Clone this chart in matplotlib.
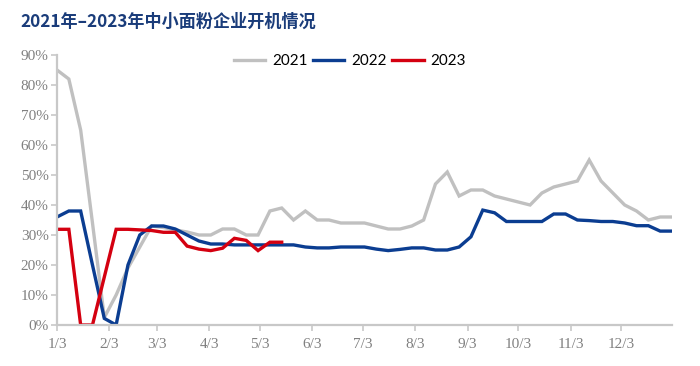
import matplotlib
matplotlib.use("Agg")
import matplotlib.pyplot as plt
import numpy as np

title = "2021年–2023年中小面粉企业开机情况"
series_names = ["2021", "2022", "2023"]
tick_labels = ["1/3", "2/3", "3/3", "4/3", "5/3", "6/3", "7/3", "8/3", "9/3", "10/3", "11/3", "12/3"]
tick_days = [0, 31, 59, 90, 120, 151, 181, 212, 243, 273, 304, 334]

y2021 = [85, 82, 65, 34, 2.5, 10, 19, 26, 33, 32.5, 31.7, 31, 30, 30, 32, 32, 30, 30, 38, 39,
         35, 38, 35, 35, 34, 34, 34, 33, 32, 32, 33, 35, 47, 51, 43, 45, 45, 43, 42, 41,
         40, 44, 46, 47, 48, 55, 48, 44, 40, 38, 35, 36, 36]
y2022 = [36, 38, 38, 20, 2.2, 0, 20, 30, 33, 33, 32, 30, 28, 27, 27, 26.7, 26.7, 26.7, 26.7, 26.7,
         26.7, 26, 25.7, 25.7, 26, 26, 26, 25.3, 24.8, 25.2, 25.7, 25.7, 25, 25, 26, 29.4, 38.3, 37.4,
         34.5, 34.5, 34.5, 34.5, 37, 37, 35, 34.8, 34.5, 34.5, 34, 33.1, 33.1, 31.3, 31.3]
y2023 = [31.9, 31.9, 0, 0, 16, 31.9, 31.9, 31.7, 31.5, 30.9, 30.9, 26.3, 25.3, 24.8, 25.6, 28.9,
         28.2, 24.8, 27.6, 27.6]

colors = ["#C0C0C0", "#0B3D91", "#D40010"]

fig = plt.figure(figsize=(7.0, 3.66), dpi=100)
ax = fig.add_axes([57/700, 1-325/366, (672-57)/700, (325-55)/366])

for name, vals, c in zip(series_names, [y2021, y2022, y2023], colors):
    x = np.arange(len(vals)) * 7
    ax.plot(x, vals, color=c, lw=2.4, label=name, solid_joinstyle="miter")

ax.set_xlim(0, 364)
ax.set_ylim(0, 90)
ax.set_yticks(np.arange(0, 91, 10))
ax.set_yticklabels([f"{v}%" for v in range(0, 91, 10)])
ax.set_xticks(tick_days)
ax.set_xticklabels(tick_labels)

for s in ["top", "right"]:
    ax.spines[s].set_visible(False)
for s in ["left", "bottom"]:
    ax.spines[s].set_color("#C8C8C8")
    ax.spines[s].set_linewidth(1.6)
ax.tick_params(axis="both", colors="#C8C8C8", length=4, width=1.2, direction="out")
for lab in ax.get_yticklabels() + ax.get_xticklabels():
    lab.set_family("Liberation Serif")
    lab.set_fontsize(11)
    lab.set_color("#808080")
ax.tick_params(axis="y", pad=2)
ax.tick_params(axis="x", pad=5)

fig.legend(loc="center", bbox_to_anchor=(0.5, 1-61/366), ncol=3, frameon=False,
           prop={"family": "Lato", "size": 11}, handlelength=2.05, handletextpad=0.45,
           columnspacing=0.35)

fig.text(20/700, 1-22/366, title, family=["Noto Sans CJK SC", "DejaVu Sans"],
         fontsize=12.3, fontweight="bold", color="#1A3C7A", va="center", ha="left")

fig.savefig("out.png", dpi=100)
